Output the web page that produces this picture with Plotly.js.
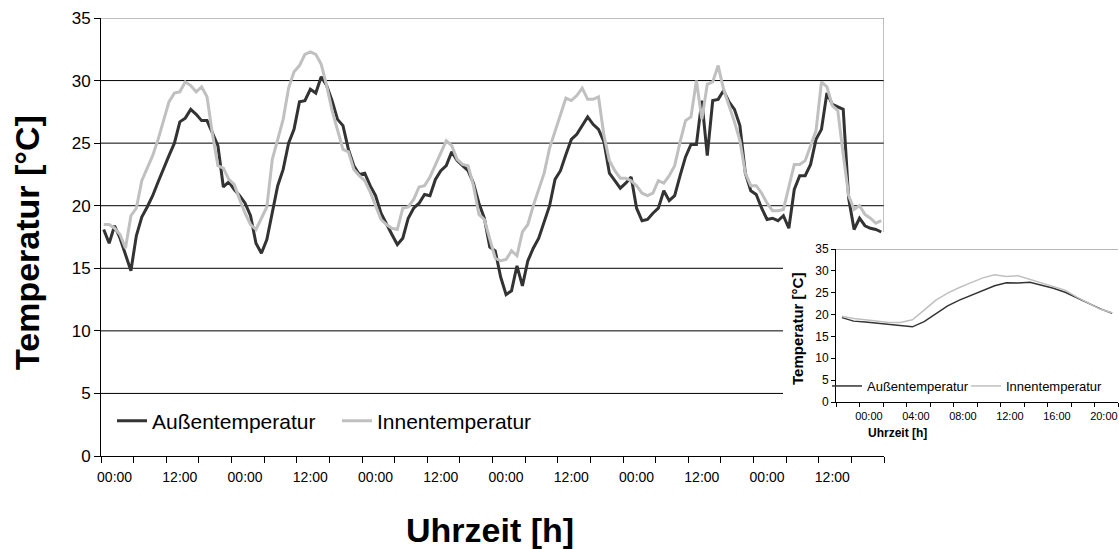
<!DOCTYPE html>
<html>
<head>
<meta charset="utf-8">
<script src="https://cdn.plot.ly/plotly-3.0.1.min.js"></script>
<style>html,body{margin:0;padding:0;background:#fff;}#chart{width:1119px;height:549px;}</style>
</head>
<body>
<div id="chart"></div>
<script>
// ---------- data (hourly values, 6 days) ----------
const seriesNames = ["Außentemperatur", "Innentemperatur"];
const aussen = [
 18.1,17.0,18.4,17.4,16.1,14.8,17.6,19.1,19.9,20.8,21.9,23.0,24.0,25.0,26.7,27.0,27.7,27.3,26.8,26.8,25.8,24.8,21.5,21.9,
 21.3,20.8,20.2,19.2,17.0,16.2,17.3,19.4,21.6,22.9,25.0,26.1,28.3,28.4,29.3,29.0,30.3,29.6,28.4,26.9,26.4,24.5,23.2,22.5,
 22.6,21.6,20.8,19.4,18.5,17.7,16.9,17.4,19.0,19.8,20.2,20.9,20.8,22.1,22.8,23.2,24.3,23.6,23.2,22.8,21.8,20.2,19.0,16.7,
 16.4,14.3,12.9,13.2,15.2,13.6,15.6,16.6,17.4,18.8,20.0,22.1,22.8,24.1,25.3,25.7,26.4,27.1,26.5,26.1,25.1,22.6,22.0,21.4,
 21.8,22.3,19.8,18.8,18.9,19.4,19.8,21.2,20.4,20.8,22.4,23.9,24.9,24.9,28.4,24.0,28.4,28.5,29.2,28.3,27.7,26.4,22.6,21.2,
 20.9,19.8,18.9,19.0,18.8,19.2,18.2,21.3,22.4,22.4,23.3,25.3,26.1,29.0,28.1,27.9,27.7,20.6,18.1,19.0,18.4,18.2,18.1,17.9
];
const innen = [
 18.5,18.5,18.2,17.7,16.6,19.2,19.8,22.0,23.0,24.0,25.3,26.7,28.3,29.0,29.1,29.9,29.6,29.1,29.5,28.7,25.7,23.2,23.0,22.1,
 21.7,20.5,19.4,18.5,18.1,19.0,19.9,23.7,25.3,26.9,29.4,30.7,31.2,32.1,32.3,32.1,31.3,29.6,27.6,26.1,24.5,24.3,22.9,22.4,
 22.0,21.1,20.0,18.9,18.5,18.2,18.1,19.8,19.9,20.5,21.5,21.6,22.3,23.3,24.3,25.2,24.8,23.7,23.3,23.2,21.6,19.3,18.9,17.3,
 15.8,15.6,15.7,16.4,16.0,17.9,18.5,20.0,21.4,22.6,24.6,26.0,27.3,28.6,28.4,28.8,29.4,28.5,28.5,28.7,25.6,23.6,22.8,22.2,
 22.2,22.0,21.6,21.0,20.8,21.0,22.0,21.8,22.4,23.2,25.1,26.8,27.1,30.0,26.9,29.7,29.9,31.2,29.3,28.0,26.7,25.2,22.6,21.6,
 21.6,21.0,20.2,19.6,19.6,19.7,21.5,23.3,23.3,23.6,24.8,26.0,29.9,29.5,28.0,27.6,24.1,20.8,19.7,20.0,19.3,19.0,18.6,18.8
];
const mainTickLabels = ["00:00","12:00","00:00","12:00","00:00","12:00","00:00","12:00","00:00","12:00","00:00","12:00"];

// average day (inset)
const aussenTag = [19.3,18.5,18.3,18.0,17.7,17.4,17.2,18.4,20.1,22.0,23.3,24.4,25.5,26.6,27.3,27.2,27.4,26.7,26.0,25.1,23.8,22.6,21.3,20.3];
const innenTag  = [19.6,19.1,18.8,18.5,18.2,18.2,18.8,21.0,23.3,24.9,26.2,27.3,28.4,29.1,28.7,28.9,28.1,27.2,26.4,25.6,24.0,22.6,21.2,20.4];
const insetTickLabels = ["00:00","04:00","08:00","12:00","16:00","20:00"];

const yTitle = "Temperatur [°C]";
const xTitle = "Uhrzeit [h]";

// ---------- geometry helpers ----------
const W = 1119, H = 549;
const M = {l:101, r:1, t:18, b:93};
const PW = W - M.l - M.r, PH = H - M.t - M.b;
const px2x = p => (p - M.l) / PW;
const px2y = p => (H - M.b - p) / PH;

const nMain = aussen.length;
const xMain = aussen.map((_, i) => i);
const xInset = aussenTag.map((_, i) => i);

const mainTickMarks = [];
for (let k = 0; k <= nMain; k += 6) mainTickMarks.push(k - 0.5);
const mainLabelPos = mainTickLabels.map((_, k) => 2 + 12 * k);
const insetTickMarks = [];
for (let k = 0; k <= aussenTag.length; k += 2) insetTickMarks.push(k - 0.5);
const insetLabelPos = insetTickLabels.map((_, k) => 2.3 + 4 * k);

const DARK = "#333333", LIGHT = "#c0c0c0";
const FONT = "Liberation Sans, Arial, sans-serif";

const traces = [
  {x: xMain, y: aussen, name: seriesNames[0], type: "scatter", mode: "lines",
   line: {color: DARK, width: 3}, xaxis: "x", yaxis: "y", legend: "legend"},
  {x: xMain, y: innen, name: seriesNames[1], type: "scatter", mode: "lines",
   line: {color: LIGHT, width: 3}, xaxis: "x", yaxis: "y", legend: "legend"},
  {x: xInset, y: aussenTag, name: seriesNames[0], type: "scatter", mode: "lines",
   line: {color: DARK, width: 1.5}, xaxis: "x2", yaxis: "y2", legend: "legend2"},
  {x: xInset, y: innenTag, name: seriesNames[1], type: "scatter", mode: "lines",
   line: {color: LIGHT, width: 1.5}, xaxis: "x2", yaxis: "y2", legend: "legend2"}
];

const mainXDom = [0, px2x(884)];
const insetXDom = [px2x(836), 1];
const insetYDom = [px2y(402), px2y(249)];
const cutHour = (783 - 101) / ((884 - 101) / nMain) - 0.5;

const shapes = [];
[5, 10, 15, 20, 25, 30].forEach(v => {
  shapes.push({type: "line", xref: "x", yref: "y", x0: -0.5, x1: v <= 15 ? cutHour : nMain - 0.5,
    y0: v, y1: v, line: {color: "#000", width: 1}, layer: "below"});
});
shapes.push({type: "line", xref: "x", yref: "y", x0: -0.5, x1: nMain - 0.5, y0: 35, y1: 35,
  line: {color: "#808080", width: 1}, layer: "below"});
shapes.push({type: "line", xref: "x", yref: "y", x0: nMain - 0.5, x1: nMain - 0.5, y0: 17.9, y1: 35,
  line: {color: "#808080", width: 1}, layer: "below"});
shapes.push({type: "line", xref: "x2", yref: "y2", x0: -0.5, x1: 23.5, y0: 35, y1: 35,
  line: {color: "#a0a0a0", width: 1.5}, layer: "below"});

const layout = {
  width: W, height: H,
  margin: M,
  paper_bgcolor: "#fff", plot_bgcolor: "rgba(0,0,0,0)",
  font: {family: FONT, color: "#000"},
  showlegend: true,
  xaxis: {domain: mainXDom, anchor: "y", range: [-0.5, nMain - 0.5],
    tickmode: "array", tickvals: mainLabelPos, ticktext: mainTickLabels, ticks: "",
    tickfont: {size: 14, family: FONT}, ticklabelstandoff: 8, ticklabeloverflow: "allow",
    minor: {tickmode: "array", tickvals: mainTickMarks, ticks: "outside", ticklen: 6, tickcolor: "#000", tickwidth: 1, showgrid: false},
    showline: true, linecolor: "#000", linewidth: 1, showgrid: false, zeroline: false, fixedrange: true},
  yaxis: {domain: [0, 1], anchor: "x", range: [0, 35], dtick: 5, tick0: 0, ticks: "outside", ticklen: 6,
    tickcolor: "#000", showline: true, linecolor: "#000", linewidth: 1, showgrid: false, zeroline: false,
    tickfont: {size: 17, family: FONT}},
  xaxis2: {domain: insetXDom, anchor: "y2", range: [-0.5, 23.5],
    tickmode: "array", tickvals: insetLabelPos, ticktext: insetTickLabels, ticks: "",
    tickfont: {size: 11, family: FONT}, ticklabelstandoff: 4, ticklabeloverflow: "allow",
    minor: {tickmode: "array", tickvals: insetTickMarks, ticks: "outside", ticklen: 4, tickcolor: "#000", tickwidth: 1, showgrid: false},
    showline: true, linecolor: "#000", linewidth: 1, showgrid: false, zeroline: false},
  yaxis2: {domain: insetYDom, anchor: "x2", range: [0, 35], dtick: 5, tick0: 0, ticks: "outside", ticklen: 4,
    tickcolor: "#000", showline: true, linecolor: "#000", linewidth: 1, showgrid: false, zeroline: false,
    tickfont: {size: 12, family: FONT}},
  legend: {x: px2x(112), y: px2y(421), xanchor: "left", yanchor: "middle", orientation: "h",
    bgcolor: "rgba(0,0,0,0)", font: {size: 21, family: FONT}, entrywidth: 180, entrywidthmode: "pixels"},
  legend2: {x: px2x(827), y: px2y(386), xanchor: "left", yanchor: "middle", orientation: "h",
    bgcolor: "rgba(0,0,0,0)", font: {size: 13, family: FONT}, entrywidth: 94, entrywidthmode: "pixels"},
  shapes: shapes,
  annotations: [
    {text: "<b>" + yTitle + "</b>", xref: "paper", yref: "paper", x: px2x(27), y: px2y(243),
     textangle: -90, showarrow: false, font: {size: 34, family: FONT}, xanchor: "center", yanchor: "middle"},
    {text: "<b>" + xTitle + "</b>", xref: "paper", yref: "paper", x: px2x(490), y: px2y(530),
     showarrow: false, font: {size: 34, family: FONT}, xanchor: "center", yanchor: "middle"},
    {text: "<b>" + yTitle + "</b>", xref: "paper", yref: "paper", x: px2x(797), y: px2y(329),
     textangle: -90, showarrow: false, font: {size: 15, family: FONT}, xanchor: "center", yanchor: "middle"},
    {text: "<b>" + xTitle + "</b>", xref: "paper", yref: "paper", x: px2x(897), y: px2y(433),
     showarrow: false, font: {size: 12, family: FONT}, xanchor: "center", yanchor: "middle"}
  ]
};

Plotly.newPlot("chart", traces, layout, {displayModeBar: false, staticPlot: true});
</script>
</body>
</html>
